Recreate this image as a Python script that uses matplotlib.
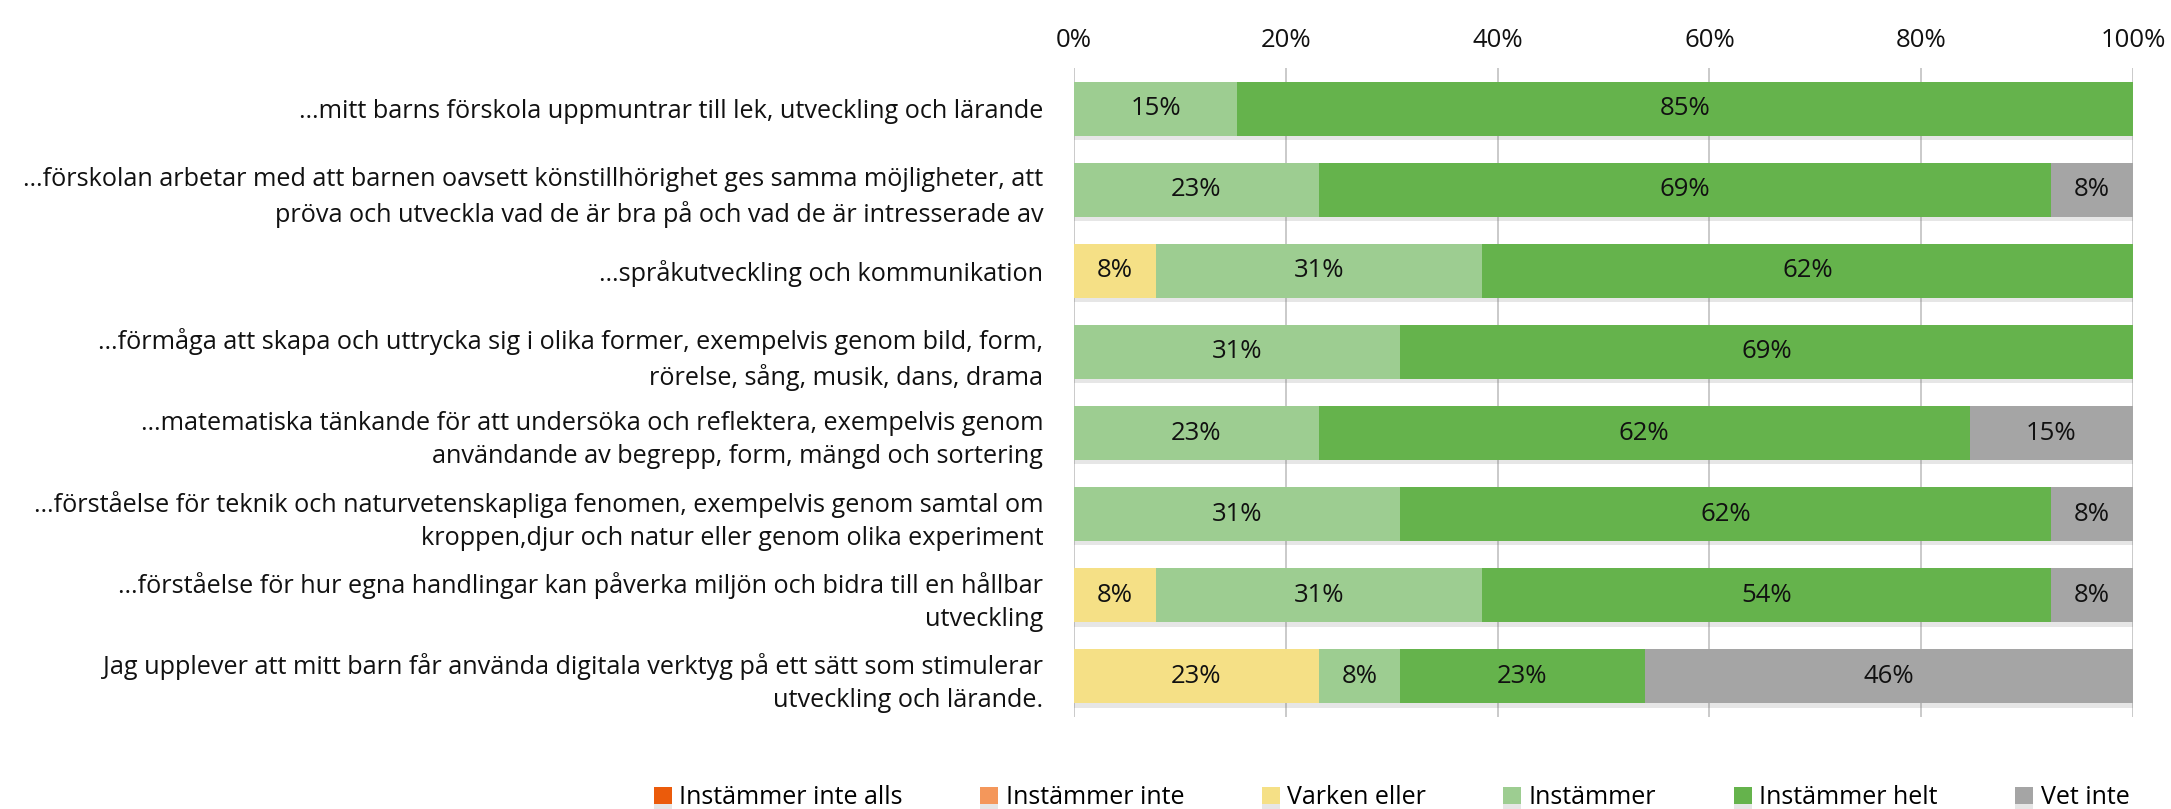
import numpy as np
import matplotlib
matplotlib.use("Agg")
import matplotlib.pyplot as plt
import matplotlib.patheffects as pe

plt.rcParams["font.family"] = ["Open Sans", "DejaVu Sans"]

# ---------------------------------------------------------
# DATA
# ---------------------------------------------------------

categories = [
    "…mitt barns förskola uppmuntrar till lek, utveckling och lärande",
    "…förskolan arbetar med att barnen oavsett könstillhörighet ges samma möjligheter, att\n"
    "pröva och utveckla vad de är bra på och vad de är intresserade av",
    "…språkutveckling och kommunikation",
    "…förmåga att skapa och uttrycka sig i olika former, exempelvis genom bild, form,\n"
    "rörelse, sång, musik, dans, drama",
    "…matematiska tänkande för att undersöka och reflektera, exempelvis genom\n"
    "användande av begrepp, form, mängd och sortering",
    "…förståelse för teknik och naturvetenskapliga fenomen, exempelvis genom samtal om\n"
    "kroppen,djur och natur eller genom olika experiment",
    "…förståelse för hur egna handlingar kan påverka miljön och bidra till en hållbar\n"
    "utveckling",
    "Jag upplever att mitt barn får använda digitala verktyg på ett sätt som stimulerar\n"
    "utveckling och lärande.",
]

series_names = [
    "Instämmer inte alls",
    "Instämmer inte",
    "Varken eller",
    "Instämmer",
    "Instämmer helt",
    "Vet inte",
]

instammer_inte_alls = [0, 0, 0, 0, 0, 0, 0, 0]
instammer_inte = [0, 0, 0, 0, 0, 0, 0, 0]
varken_eller = [0, 0, 7.7, 0, 0, 0, 7.7, 23.1]
instammer = [15.4, 23.1, 30.8, 30.8, 23.1, 30.8, 30.8, 7.7]
instammer_helt = [84.6, 69.2, 61.5, 69.2, 61.5, 61.5, 53.8, 23.1]
vet_inte = [0, 7.7, 0, 0, 15.4, 7.7, 7.7, 46.2]

colors = ["#EB5B0B", "#F4975B", "#F5E086", "#9DCD91", "#65B34C", "#A5A5A5"]

x_ticks = [0, 20, 40, 60, 80, 100]

# ---------------------------------------------------------
# FIGURE
# ---------------------------------------------------------

fig = plt.figure(figsize=(21.71, 8.09), dpi=100)
ax = fig.add_axes([0.4947, 0.1137, 0.9825 - 0.4947, 0.9159 - 0.1137])

series = [instammer_inte_alls, instammer_inte, varken_eller,
          instammer, instammer_helt, vet_inte]

y = np.arange(len(categories))
left = np.zeros(len(categories))
shadow = [pe.SimplePatchShadow(offset=(0, -3), alpha=0.18, shadow_rgbFace="#777777"),
          pe.Normal()]

for name, vals, col in zip(series_names, series, colors):
    vals = np.array(vals, dtype=float)
    bars = ax.barh(y, vals, left=left, height=0.666, color=col,
                   label=name, zorder=3, path_effects=shadow)
    labels = [f"{v:.0f}%" if v > 0 else "" for v in vals]
    ax.bar_label(bars, labels=labels, label_type="center",
                 fontsize=18.5, color="#111111")
    left += vals

ax.set_xlim(0, 100)
ax.set_ylim(len(categories) - 0.5, -0.5)

ax.set_xticks(x_ticks)
ax.set_xticklabels([f"{t}%" for t in x_ticks])
ax.xaxis.tick_top()
ax.tick_params(axis="x", length=0, pad=11, labelsize=18.5, colors="#111111")
ax.tick_params(axis="y", length=0, pad=22, labelsize=18.2, colors="#111111")

ax.set_yticks(y)
ax.set_yticklabels(categories, linespacing=1.42)

ax.grid(axis="x", color="#C6C6C6", linewidth=1.3, zorder=0)
for s in ax.spines.values():
    s.set_visible(False)

fig.legend(
    loc="center",
    bbox_to_anchor=(0.641, 0.014),
    ncol=6,
    frameon=False,
    fontsize=18,
    handlelength=0.72,
    handleheight=0.72,
    handletextpad=0.3,
    columnspacing=3.1,
)

plt.savefig("out.png", dpi=100)
plt.close()
